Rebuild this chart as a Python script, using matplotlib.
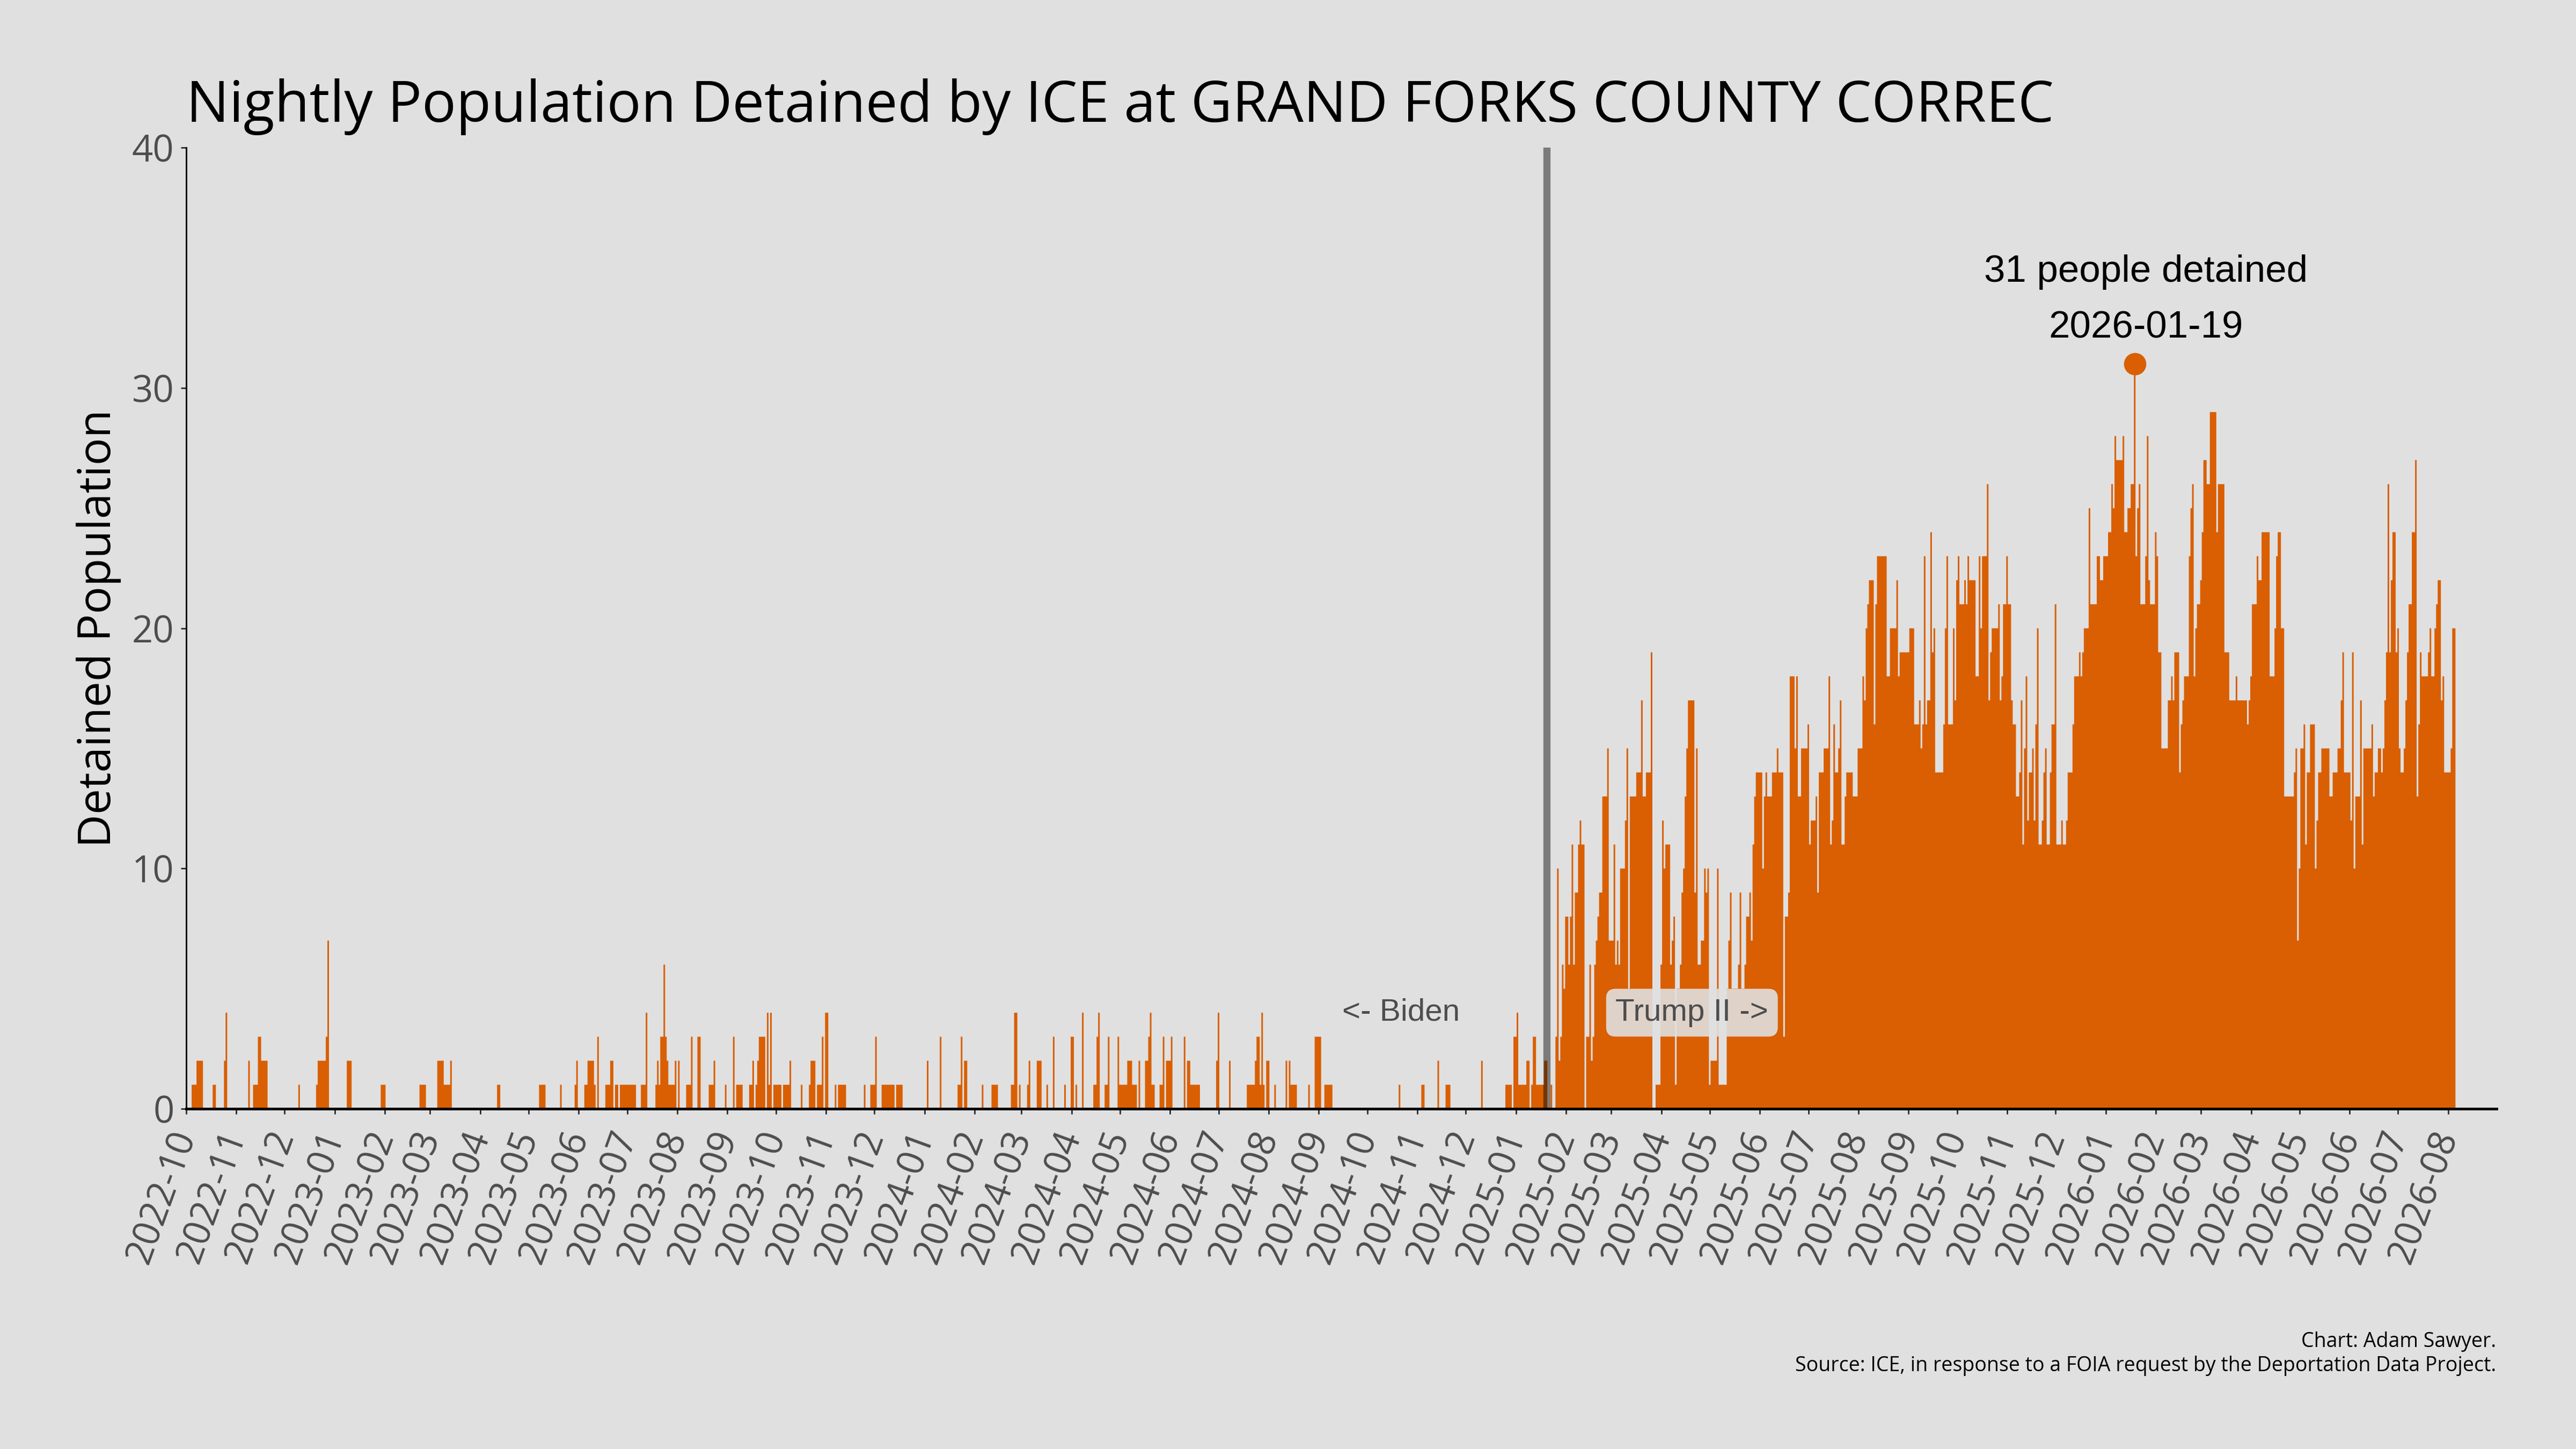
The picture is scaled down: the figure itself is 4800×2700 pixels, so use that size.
import numpy as np
import pandas as pd
import matplotlib
matplotlib.use("Agg")
import matplotlib.pyplot as plt
import matplotlib.dates as mdates

# --- data --------------------------------------------------------------
FIRST_DAY = "2022-10-01"
LAST_AXIS_DAY = "2026-08-31"
TRUMP_START_DATA = "2025-01-14"   # first day of the dense daily series
INAUGURATION = "2025-01-20"
FACILITY = "GRAND FORKS COUNTY CORREC"

# sparse Biden-era nights: days since FIRST_DAY -> detained count
biden_offsets = [4, 5, 6, 7, 8, 9, 10, 17, 18, 24, 25, 39, 42, 43, 44, 45, 46, 47, 48, 49, 50,
                 70, 81, 82, 83, 84, 85, 86, 87, 88, 100, 101, 102, 121, 122, 123,
                 145, 146, 147, 148, 156, 157, 158, 159, 160, 161, 162, 163, 164, 193, 194,
                 219, 220, 221, 222, 232, 241, 242, 247, 248, 249, 250, 251, 252, 253, 255,
                 260, 261, 262, 263, 264, 266, 267, 269, 270, 271, 272, 273, 274, 275, 276, 277, 278,
                 282, 283, 284, 285, 291, 292, 293, 294, 295, 296, 297, 298, 299, 300, 301, 302, 303, 305,
                 310, 311, 312, 313, 317, 318, 324, 325, 326, 327, 334, 339, 341, 342, 343, 344,
                 349, 350, 351, 353, 354, 355, 356, 357, 358, 360, 361, 362, 364, 365, 366, 367, 368,
                 370, 371, 372, 373, 374, 381, 386, 387, 388, 389, 391, 392, 393, 394, 396, 397,
                 402, 404, 405, 406, 407, 408, 420, 424, 425, 426, 427,
                 431, 432, 433, 434, 435, 436, 437, 438, 440, 441, 442, 443,
                 459, 467, 478, 479, 480, 482, 483, 493, 499, 500, 501, 502,
                 511, 512, 513, 514, 516, 521, 522, 527, 528, 529, 533, 537, 544, 548, 549, 551, 555,
                 562, 563, 564, 565, 569, 570, 571, 577, 578, 579, 580, 581, 582, 583, 584, 585,
                 586, 587, 588, 590, 594, 595, 596, 597, 598, 599, 603, 604, 605, 607, 608, 609, 610,
                 618, 620, 621, 622, 623, 624, 625, 626, 627, 638, 639, 646,
                 657, 658, 659, 660, 661, 662, 663, 664, 665, 666, 667, 669, 670, 674,
                 681, 683, 684, 685, 686, 687, 695, 699, 700, 701, 702, 705, 706, 707, 708, 709,
                 751, 765, 766, 775, 780, 781, 782, 802, 817, 818, 819, 820, 822, 823, 824,
                 825, 826, 827, 828, 829, 830, 831, 833, 834, 835]
biden_counts = [1, 1, 1, 2, 2, 2, 2, 1, 1, 2, 4, 2, 1, 1, 1, 3, 3, 2, 2, 2, 2,
                1, 1, 2, 2, 2, 2, 2, 3, 7, 2, 2, 2, 1, 1, 1,
                1, 1, 1, 1, 2, 2, 2, 2, 1, 1, 1, 1, 2, 1, 1,
                1, 1, 1, 1, 1, 1, 2, 1, 1, 2, 2, 2, 2, 1, 3,
                1, 1, 1, 2, 2, 1, 1, 1, 1, 1, 1, 1, 1, 1, 1, 1, 1,
                1, 1, 1, 4, 1, 2, 1, 3, 3, 6, 3, 2, 1, 1, 1, 1, 2, 2,
                1, 1, 1, 3, 3, 3, 1, 1, 1, 2, 1, 3, 1, 1, 1, 1,
                1, 1, 2, 1, 2, 3, 3, 3, 3, 4, 1, 4, 1, 1, 1, 1, 1,
                1, 1, 1, 1, 2, 1, 1, 2, 2, 2, 1, 1, 1, 3, 4, 4,
                1, 1, 1, 1, 1, 1, 1, 1, 1, 1, 3,
                1, 1, 1, 1, 1, 1, 1, 1, 1, 1, 1, 1,
                2, 3, 1, 1, 3, 2, 2, 1, 1, 1, 1, 1,
                1, 1, 4, 4, 1, 1, 2, 2, 2, 2, 1, 3, 1, 3, 3, 1, 4,
                1, 1, 3, 4, 1, 1, 3, 3, 1, 1, 1, 1, 1, 2, 2, 2,
                1, 1, 1, 2, 2, 2, 3, 4, 1, 1, 1, 1, 3, 2, 2, 2, 3,
                3, 2, 2, 1, 1, 1, 1, 1, 1, 2, 4, 2,
                1, 1, 1, 1, 1, 2, 3, 3, 1, 4, 1, 2, 2, 1,
                2, 2, 1, 1, 1, 1, 1, 3, 3, 3, 3, 1, 1, 1, 1, 1,
                1, 1, 1, 2, 1, 1, 1, 2, 1, 1, 1, 1, 3, 3, 4,
                1, 1, 1, 1, 1, 2, 2, 1, 3, 3]

# every night from TRUMP_START_DATA onwards
trump_counts = [
    1, 1, 1, 1, 1, 2, 2, 0, 0, 1, 0, 0, 3, 10, 2, 3, 6, 5, 8, 8,
    6, 8, 11, 6, 9, 9, 11, 12, 11, 11, 0, 3, 3, 6, 2, 3, 6, 7, 8, 9,
    9, 13, 13, 13, 15, 7, 7, 7, 11, 6, 7, 6, 10, 10, 10, 12, 15, 5, 13, 13,
    13, 13, 14, 14, 14, 17, 13, 13, 14, 14, 14, 19, 0, 0, 1, 1, 1, 6, 12, 10,
    11, 11, 11, 6, 7, 8, 1, 5, 5, 6, 9, 10, 13, 15, 17, 17, 17, 17, 9, 15,
    6, 6, 7, 7, 10, 9, 10, 1, 2, 2, 2, 2, 10, 1, 1, 1, 1, 1, 5, 7,
    9, 5, 5, 5, 5, 6, 9, 5, 5, 6, 8, 8, 9, 7, 11, 13, 14, 14, 14, 14,
    10, 13, 14, 13, 13, 13, 14, 14, 14, 15, 14, 14, 14, 3, 8, 8, 9, 18, 18, 18,
    15, 18, 13, 13, 15, 15, 15, 15, 16, 11, 12, 12, 12, 13, 9, 14, 14, 14, 15, 15,
    15, 18, 11, 12, 16, 14, 14, 15, 17, 11, 11, 13, 14, 14, 14, 14, 13, 13, 13, 15,
    15, 15, 18, 17, 20, 21, 22, 22, 22, 16, 21, 23, 23, 23, 23, 23, 23, 18, 18, 20,
    20, 20, 20, 22, 18, 19, 19, 19, 19, 19, 19, 20, 20, 20, 16, 16, 16, 17, 15, 16,
    23, 16, 17, 17, 24, 19, 20, 14, 14, 14, 14, 14, 16, 20, 23, 16, 16, 16, 20, 17,
    22, 23, 21, 21, 21, 22, 21, 23, 22, 22, 22, 22, 18, 18, 23, 20, 23, 23, 23, 26,
    17, 19, 20, 20, 20, 20, 21, 17, 18, 21, 21, 23, 21, 21, 17, 16, 16, 13, 13, 14,
    17, 11, 15, 18, 12, 14, 14, 15, 12, 16, 20, 11, 11, 12, 14, 15, 11, 11, 14, 16,
    16, 21, 11, 11, 11, 12, 11, 11, 12, 14, 14, 14, 16, 18, 18, 18, 19, 18, 19, 20,
    20, 20, 25, 21, 21, 21, 21, 23, 23, 22, 22, 23, 23, 23, 24, 24, 26, 25, 28, 27,
    27, 27, 27, 28, 24, 24, 25, 25, 26, 26, 31, 23, 25, 26, 21, 21, 21, 23, 28, 22,
    21, 21, 21, 24, 23, 19, 19, 15, 15, 15, 15, 17, 17, 18, 17, 19, 19, 19, 14, 16,
    17, 18, 18, 18, 23, 25, 26, 18, 20, 21, 21, 22, 24, 27, 27, 26, 26, 29, 29, 29,
    29, 24, 26, 26, 26, 26, 19, 19, 19, 17, 17, 17, 17, 18, 17, 17, 17, 17, 17, 17,
    16, 17, 18, 21, 21, 21, 23, 22, 22, 24, 24, 24, 24, 24, 18, 18, 18, 20, 23, 24,
    24, 20, 20, 13, 13, 13, 13, 13, 13, 14, 15, 7, 10, 15, 15, 16, 11, 14, 14, 16,
    16, 16, 10, 12, 14, 14, 15, 15, 15, 15, 15, 13, 13, 14, 14, 14, 15, 15, 17, 19,
    14, 14, 14, 14, 12, 19, 10, 13, 13, 13, 17, 11, 15, 15, 15, 15, 15, 16, 13, 14,
    14, 15, 15, 14, 15, 17, 19, 26, 19, 22, 24, 24, 19, 20, 15, 14, 14, 15, 17, 19,
    21, 21, 24, 24, 27, 13, 16, 19, 18, 18, 18, 18, 19, 20, 18, 18, 20, 21, 22, 22,
    17, 18, 14, 14, 14, 14, 15, 20, 20,
]

ORANGE = "#d95f02"
BG = "#e0e0e0"
GREY_TXT = "#4d4d4d"

# --- assemble daily series ---------------------------------------------
trump_offset = (pd.Timestamp(TRUMP_START_DATA) - pd.Timestamp(FIRST_DAY)).days
counts = np.zeros(trump_offset + len(trump_counts))
counts[biden_offsets] = biden_counts
counts[trump_offset:] = trump_counts
dates = pd.date_range(FIRST_DAY, periods=len(counts), freq="D")
x = mdates.date2num(dates.to_pydatetime())
edges = np.append(x - 0.5, x[-1] + 0.5)

peak_i = int(np.argmax(counts))
peak_date = dates[peak_i]
peak_val = int(counts[peak_i])

# --- figure ------------------------------------------------------------
fig = plt.figure(figsize=(16, 9), dpi=300, facecolor=BG)
ax = fig.add_axes([0.0722, 0.2348, 0.897, 0.6632], facecolor=BG)

ax.stairs(counts, edges, fill=True, color=ORANGE, linewidth=0, baseline=0)

inaug = mdates.date2num(pd.Timestamp(INAUGURATION))
ax.axvline(inaug, color="black", alpha=0.45, linewidth=3.2, zorder=3)

label_font = ["Liberation Sans", "DejaVu Sans"]
ax.text(inaug - 90, 4, "<- Biden", ha="center", va="center", fontsize=14,
        family=label_font, color=GREY_TXT, zorder=4,
        bbox=dict(boxstyle="round,pad=0.3", fc=BG, ec="none", alpha=0.9))
ax.text(inaug + 90, 4, "Trump II ->", ha="center", va="center", fontsize=14,
        family=label_font, color=GREY_TXT, zorder=4,
        bbox=dict(boxstyle="round,pad=0.3", fc=BG, ec="none", alpha=0.9))

px = mdates.date2num(peak_date)
ax.plot([px], [peak_val], "o", color=ORANGE, markersize=9, zorder=5)
ax.annotate(f"{peak_val} people detained", (px, peak_val), xytext=(5, 41),
            textcoords="offset points", ha="center", va="center",
            fontsize=17, family=label_font, color="black")
ax.annotate(peak_date.strftime("%Y-%m-%d"), (px, peak_val), xytext=(5, 16),
            textcoords="offset points", ha="center", va="center",
            fontsize=17, family=label_font, color="black")

ax.set_xlim(mdates.date2num(pd.Timestamp(FIRST_DAY)), mdates.date2num(pd.Timestamp(LAST_AXIS_DAY)))
ax.set_ylim(0, 40)
ax.set_yticks([0, 10, 20, 30, 40])
ax.xaxis.set_major_locator(mdates.MonthLocator())
ax.xaxis.set_major_formatter(mdates.DateFormatter("%Y-%m"))

for s in ["top", "right"]:
    ax.spines[s].set_visible(False)
ax.spines["left"].set_linewidth(0.7)
ax.spines["bottom"].set_linewidth(1.2)

ax.tick_params(axis="both", colors="#333333", length=2.3, width=0.7,
               labelcolor=GREY_TXT, labelsize=16.5)
ax.tick_params(axis="x", pad=8)
ax.tick_params(axis="y", pad=3)
for lab in ax.get_xticklabels():
    lab.set_family("Open Sans")
    lab.set_rotation(70)
    lab.set_rotation_mode("anchor")
    lab.set_ha("right")
    lab.set_va("center")
for lab in ax.get_yticklabels():
    lab.set_family("Open Sans")

fig.text(0.0722, 0.9159, f"Nightly Population Detained by ICE at {FACILITY}",
         ha="left", va="baseline", fontsize=25.5, family="Open Sans", color="black")
fig.text(0.0383, 0.5664, "Detained Population", rotation=90, ha="center", va="center",
         fontsize=20.5, family="Open Sans", color="black")
fig.text(0.969, 0.0704, "Chart: Adam Sawyer.", ha="right", va="baseline",
         fontsize=9, family="Open Sans", color="black")
fig.text(0.969, 0.0537, "Source: ICE, in response to a FOIA request by the Deportation Data Project.",
         ha="right", va="baseline", fontsize=9, family="Open Sans", color="black")

fig.savefig("out.png", dpi=300, facecolor=BG)
